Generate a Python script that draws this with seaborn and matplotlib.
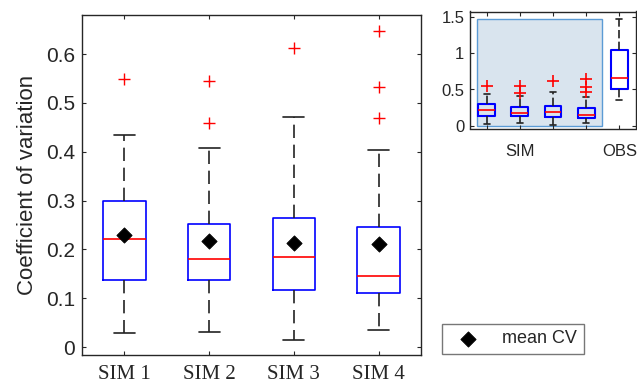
import numpy as np
import matplotlib
matplotlib.use('Agg')
import matplotlib.pyplot as plt
from matplotlib.patches import Rectangle
import seaborn as sns

# box summary values
labels = ['SIM 1', 'SIM 2', 'SIM 3', 'SIM 4']
whislo = [0.029, 0.031, 0.014, 0.035]
q1 = [0.138, 0.138, 0.117, 0.111]
med = [0.221, 0.181, 0.185, 0.146]
q3 = [0.299, 0.252, 0.265, 0.245]
whishi = [0.435, 0.408, 0.472, 0.403]
fliers = [[0.550], [0.458, 0.545], [0.613], [0.470, 0.533, 0.647]]
mean_cv = [0.230, 0.217, 0.213, 0.211]

# observed box (inset only)
obs_stats = dict(whislo=0.355, q1=0.50, med=0.66, q3=1.05, whishi=1.47, fliers=[])

sns.set_theme(style='white')
plt.rcParams['font.family'] = ['Liberation Sans', 'DejaVu Sans']
grey = '#262626'


def make_stats(extra=None):
    stats = []
    for i in range(len(labels)):
        stats.append(dict(whislo=whislo[i], q1=q1[i], med=med[i], q3=q3[i],
                          whishi=whishi[i], fliers=fliers[i]))
    if extra is not None:
        stats.append(extra)
    return stats


def style_axes(ax):
    for s in ax.spines.values():
        s.set_color(grey)
        s.set_linewidth(1.0)
    ax.tick_params(direction='in', length=3, width=0.8, colors=grey,
                   top=True, right=True, bottom=True, left=True)


fig = plt.figure(figsize=(6.37, 3.85), dpi=100)

# main axes
ax = fig.add_axes([82 / 637, 1 - 355 / 385, 339 / 637, 340 / 385])
pos = np.arange(1, len(labels) + 1)
ax.bxp(make_stats(), positions=pos, widths=0.5, showfliers=True,
       boxprops=dict(color='blue', linewidth=1.2),
       medianprops=dict(color='red', linewidth=1.2),
       whiskerprops=dict(color='#222222', linewidth=1.2, linestyle=(0, (8, 4))),
       capprops=dict(color='#222222', linewidth=1.2),
       flierprops=dict(marker='+', markeredgecolor='red', markersize=9,
                       markeredgewidth=1.0, linestyle='none'))
sns.scatterplot(x=pos, y=mean_cv, marker='D', s=60, color='black',
                edgecolor='black', ax=ax, label='mean CV', zorder=5)
handles, hl = ax.get_legend_handles_labels()
ax.get_legend().remove()

ax.set_xlim(0.5, 4.5)
ax.set_ylim(-0.016, 0.68)
ax.set_yticks(np.arange(0, 0.61, 0.1))
ax.set_yticklabels(['0', '0.1', '0.2', '0.3', '0.4', '0.5', '0.6'], fontsize=15)
ax.set_xticks(pos)
ax.set_xticklabels(labels, fontsize=15, family=['Liberation Serif'])
style_axes(ax)
ax.tick_params(axis='x', pad=7)
ax.tick_params(axis='y', pad=5)
ax.set_ylabel('Coefficient of variation', fontsize=16, color=grey, labelpad=6)

# inset with the observed values
axi = fig.add_axes([470 / 637, 1 - 128.5 / 385, 166 / 637, 117 / 385])
axi.add_patch(Rectangle((0.7, 0), 3.77, 1.48, facecolor='#d9e4ee',
                        edgecolor='#5b9bd5', linewidth=1.0, zorder=0))
axi.bxp(make_stats(obs_stats), positions=np.arange(1, 6), widths=0.5,
        showfliers=True, capwidths=0.18,
        boxprops=dict(color='blue', linewidth=1.5),
        medianprops=dict(color='red', linewidth=1.2),
        whiskerprops=dict(color='#222222', linewidth=1.2, linestyle=(0, (5, 2))),
        capprops=dict(color='#222222', linewidth=1.2),
        flierprops=dict(marker='+', markeredgecolor='red', markersize=9,
                        markeredgewidth=1.2, linestyle='none'))
axi.set_xlim(0.5, 5.5)
axi.set_ylim(-0.04, 1.58)
axi.set_yticks([0, 0.5, 1, 1.5])
axi.set_yticklabels(['0', '0.5', '1', '1.5'], fontsize=12)
axi.set_xticks(np.arange(1, 6))
axi.set_xticklabels(['', 'SIM', '', '', 'OBS'], fontsize=12)
style_axes(axi)
axi.tick_params(axis='x', pad=11)
axi.tick_params(axis='y', pad=4)

leg = fig.legend(handles, hl, loc='upper left',
                 bbox_to_anchor=(442 / 637, 1 - 324 / 385),
                 fontsize=13, frameon=True, fancybox=False,
                 handlelength=2.2, handletextpad=0.8, borderpad=0.35,
                 borderaxespad=0)
leg.get_frame().set_edgecolor('#555555')
leg.get_frame().set_linewidth(1.0)
for t in leg.get_texts():
    t.set_color(grey)

fig.savefig('out.png', dpi=100)
